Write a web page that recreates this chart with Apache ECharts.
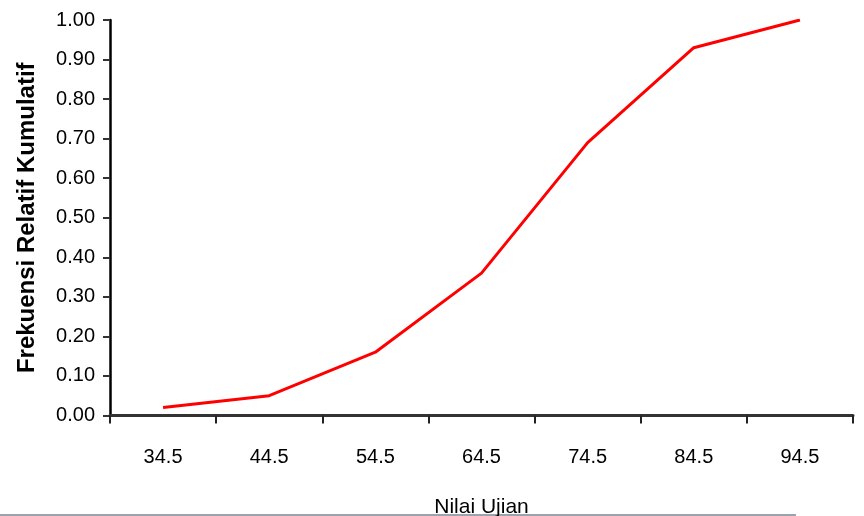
<!DOCTYPE html>
<html>
<head>
<meta charset="utf-8">
<script src="https://cdn.jsdelivr.net/npm/echarts@6/dist/echarts.min.js"></script>
<style>html,body{margin:0;padding:0;background:#fff}#c{width:864px;height:516px}</style>
</head>
<body>
<div id="c"></div>
<script>
const categories = ['34.5','44.5','54.5','64.5','74.5','84.5','94.5'];
const values = [0.02, 0.05, 0.16, 0.36, 0.69, 0.93, 1.00];
const xTitle = 'Nilai Ujian';
const yTitle = 'Frekuensi Relatif Kumulatif';

const chart = echarts.init(document.getElementById('c'));
chart.setOption({
  animation: false,
  backgroundColor: '#fff',
  grid: { left: 110, right: 11, top: 20, bottom: 100.5, containLabel: false, outerBoundsMode: 'none' },
  xAxis: {
    type: 'category',
    data: categories,
    boundaryGap: true,
    name: xTitle,
    nameLocation: 'middle',
    nameGap: 81,
    nameTextStyle: { fontFamily: 'Liberation Sans', fontSize: 21, color: '#000' },
    axisLine: { lineStyle: { color: '#333', width: 3 } },
    axisTick: { show: true, length: 8, alignWithLabel: false, lineStyle: { color: '#222', width: 2 } },
    axisLabel: { fontFamily: 'Liberation Sans', fontSize: 20, color: '#000', margin: 32 },
    splitLine: { show: false }
  },
  yAxis: {
    type: 'value',
    min: 0, max: 1, interval: 0.1,
    name: yTitle,
    nameLocation: 'middle',
    nameGap: 71,
    nameTextStyle: { fontFamily: 'Liberation Sans', fontSize: 24, fontWeight: 'bold', color: '#000' },
    axisLine: { show: true, lineStyle: { color: '#000', width: 2.5 } },
    axisTick: { show: true, length: 7, lineStyle: { color: '#333', width: 2 } },
    axisLabel: { fontFamily: 'Liberation Sans', fontSize: 20, color: '#000', margin: 15,
      formatter: v => v.toFixed(2) },
    splitLine: { show: false }
  },
  series: [{
    type: 'line',
    data: values,
    symbol: 'none',
    lineStyle: { color: '#ff0000', width: 3 }
  }],
  graphic: [{
    type: 'line',
    shape: { x1: 0, y1: 515, x2: 796, y2: 515 },
    style: { stroke: '#9aa4ae', lineWidth: 2 }
  }]
});
</script>
</body>
</html>
